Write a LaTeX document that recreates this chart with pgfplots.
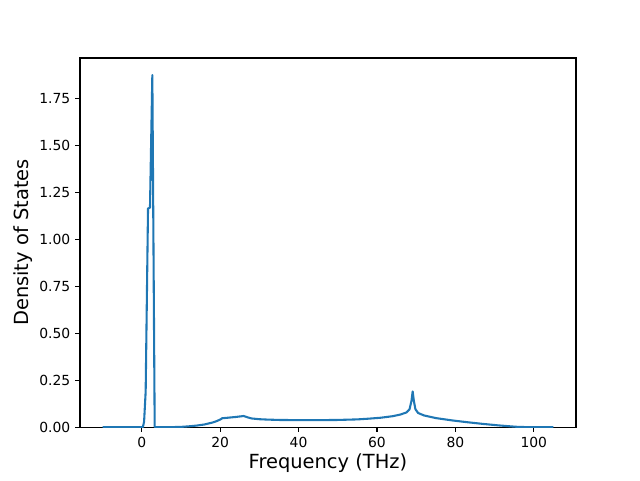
\documentclass[border=0pt]{standalone}
\usepackage{pgfplots}
\pgfplotsset{compat=1.18}
\usepackage{fontspec}
\setmainfont{DejaVu Sans}
\definecolor{c0}{HTML}{1F77B4}
\begin{document}
\begin{tikzpicture}
\begin{axis}[
  scale only axis,
  width=357.1pt, height=265.7pt,
  xmin=-15.75, xmax=110.75,
  ymin=0, ymax=1.967,
  xtick={0,20,40,60,80,100},
  ytick={0,0.25,0.5,0.75,1,1.25,1.5,1.75},
  yticklabel style={/pgf/number format/fixed,/pgf/number format/fixed zerofill,/pgf/number format/precision=2},
  /pgf/number format/assume math mode=true,
  tick align=outside, tick pos=left,
  major tick length=3.5pt,
  tick style={black, line width=0.8pt},
  axis line style={line width=0.8pt},
  ticklabel style={font=\fontsize{10}{12}\selectfont},
  xlabel={Frequency (THz)}, ylabel={Density of States},
  label style={font=\fontsize{14}{16}\selectfont},
  xlabel style={yshift=2pt},
  ylabel style={yshift=-2pt},
]
\addplot[c0, line width=1.5pt, line join=round] coordinates {
(-10,0) (-5,0) (0,0) (0.3,0) (0.6,0.03) (1.0,0.19) (1.6,1.165) (2.1,1.17) (2.7,1.876) (3.3,0) (3.6,0)
(5,0) (8,0) (10,0.001) (12,0.004) (14,0.008) (16,0.014) (18,0.024) (19,0.031) (20,0.04) (20.5,0.047)
(22,0.05) (24,0.054) (26,0.059) (27,0.052) (28,0.046) (30,0.042) (32,0.04) (35,0.038) (40,0.037)
(45,0.037) (50,0.038) (55,0.041) (58,0.045) (61,0.050) (64,0.058) (66,0.067) (67.5,0.078) (68.3,0.095)
(68.8,0.14) (69.1,0.19) (69.4,0.14) (69.8,0.095) (70.5,0.075) (72,0.062) (75,0.048) (79,0.036)
(83,0.026) (87,0.017) (91,0.009) (94,0.004) (96,0.001) (98,0) (105,0)
};
\end{axis}
\path (current axis.south west) ++(-57.6pt,-38.2pt) coordinate (bl);
\path (current axis.north east) ++(46.1pt,41.8pt) coordinate (tr);
\useasboundingbox (bl) rectangle (tr);
\end{tikzpicture}
\end{document}
